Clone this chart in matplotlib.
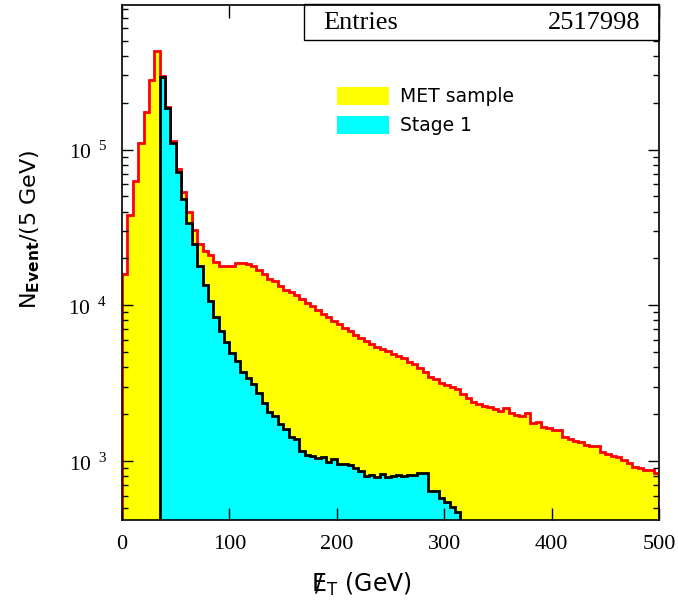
import numpy as np
import matplotlib
matplotlib.use("Agg")
import matplotlib.pyplot as plt
from matplotlib.patches import Patch, Rectangle
from matplotlib.ticker import NullFormatter

plt.rcParams['mathtext.fontset'] = 'custom'
plt.rcParams['mathtext.rm'] = 'Liberation Serif'
plt.rcParams['mathtext.sf'] = 'DejaVu Sans'
plt.rcParams['mathtext.bf'] = 'DejaVu Sans:bold'

# histogram contents, 5 GeV bins
bin_width = 5
x_range = (0, 500)
met_sample = [
    16000, 37800, 62500, 111000, 175000, 279000, 429000, 295000, 187000, 113000,
    75100, 53100, 39700, 30300, 24700, 22200, 20900, 19100, 17900, 17800,
    17800, 18700, 18700, 18400, 17800, 16900, 15900, 14800, 14400, 13400,
    12600, 12100, 11600, 11000, 10400, 9930, 9350, 8820, 8390, 7950,
    7600, 7130, 6850, 6460, 6210, 5940, 5660, 5390, 5260, 5100,
    4880, 4760, 4590, 4350, 4220, 3970, 3720, 3460, 3370, 3190,
    3080, 3010, 2890, 2700, 2530, 2410, 2320, 2260, 2210, 2150,
    2110, 2180, 2030, 1980, 1960, 2030, 1760, 1780, 1650, 1630,
    1580, 1580, 1420, 1390, 1350, 1330, 1270, 1250, 1250, 1140,
    1110, 1080, 1070, 1010, 975, 918, 897, 875, 875, 834,
]
stage1_start = 35
stage1 = [
    292000, 185000, 110000, 71500, 48200, 33600, 24600, 17800, 13600, 10600,
    8390, 6890, 5850, 4970, 4410, 3720, 3400, 3110, 2720, 2350,
    2080, 1960, 1730, 1600, 1420, 1390, 1160, 1090, 1080, 1040,
    1060, 991, 1030, 957, 953, 943, 906, 866, 801, 813,
    793, 824, 793, 801, 813, 800, 820, 815, 834, 840,
    644, 644, 576, 547, 508, 468,
]
entries = 2517998
x_ticks = [0, 100, 200, 300, 400, 500]
y_ticks = [1e3, 1e4, 1e5]

met_edges = np.arange(x_range[0], x_range[1] + bin_width, bin_width)
st1_edges = stage1_start + bin_width * np.arange(len(stage1) + 1)

fig = plt.figure(figsize=(6.78, 6.09), dpi=100)
ax = fig.add_axes([0.18, 0.146, 0.792, 0.846])
ax.set_yscale('log')

ax.stairs(met_sample, met_edges, baseline=1, fill=True, color='#ffff00', zorder=1)
ax.stairs(met_sample, met_edges, baseline=1, color='#ff0000', lw=2, zorder=1.2)
ax.stairs(stage1, st1_edges, baseline=1, fill=True, color='#00ffff', zorder=1.4)
ax.stairs(stage1, st1_edges, baseline=1, color='black', lw=2, zorder=1.6)

ax.set_xlim(*x_range)
ax.set_ylim(418, 8.5e5)

ax.set_xticks(x_ticks, labels=[str(t) for t in x_ticks],
              fontfamily='Liberation Serif', fontsize=16)
ax.xaxis.set_minor_locator(matplotlib.ticker.NullLocator())
ax.set_yticks(y_ticks, labels=[r'$\mathrm{10}^{\ \,\mathrm{%d}}$' % round(np.log10(v)) for v in y_ticks],
              fontsize=15.5)
minor = [m * 10.0**e for e in range(2, 6) for m in range(2, 10)]
ax.set_yticks([v for v in minor if 418 < v < 8.5e5], minor=True)
ax.yaxis.set_minor_formatter(NullFormatter())

ax.tick_params(which='both', direction='in', top=True, right=True, width=1)
ax.tick_params(axis='x', which='major', length=9, pad=11)
ax.tick_params(axis='y', which='major', length=8, pad=11)
ax.tick_params(axis='y', which='minor', length=4)
for s in ax.spines.values():
    s.set_linewidth(1.2)

# stats box
ax.add_patch(Rectangle((0.339, 0.932), 0.661, 0.07, transform=ax.transAxes,
                       fc='white', ec='black', lw=1, zorder=2.2, clip_on=False))
ax.text(0.374, 0.964, 'Entries', transform=ax.transAxes, ha='left', va='center',
        fontfamily='Liberation Serif', fontsize=19, zorder=3)
ax.text(0.965, 0.964, str(entries), transform=ax.transAxes, ha='right', va='center',
        fontfamily='Liberation Serif', fontsize=19, zorder=3)

handles = [Patch(fc='#ffff00', ec='none', label='MET sample'),
           Patch(fc='#00ffff', ec='none', label='Stage 1')]
ax.legend(handles=handles, loc='upper left', bbox_to_anchor=(0.400, 0.841),
          frameon=False, borderpad=0, borderaxespad=0, fontsize=13.5,
          handlelength=2.8, handleheight=1.1, handletextpad=0.55, labelspacing=0.5)

# missing-ET axis title: E with an overstruck slash
fig.text(311 / 678, 1 - 592 / 609,
         r'$\mathsf{E}\!\!\!\mathsf{/}\,{}_{\mathsf{T}}$ (GeV)',
         ha='left', va='baseline', fontsize=17)
fig.text(30 / 678, 1 - 229 / 609, r'N$_{\mathbf{Event}}$/(5 GeV)', rotation=90,
         ha='center', va='center', fontsize=16)

fig.savefig('out.png', dpi=100)
